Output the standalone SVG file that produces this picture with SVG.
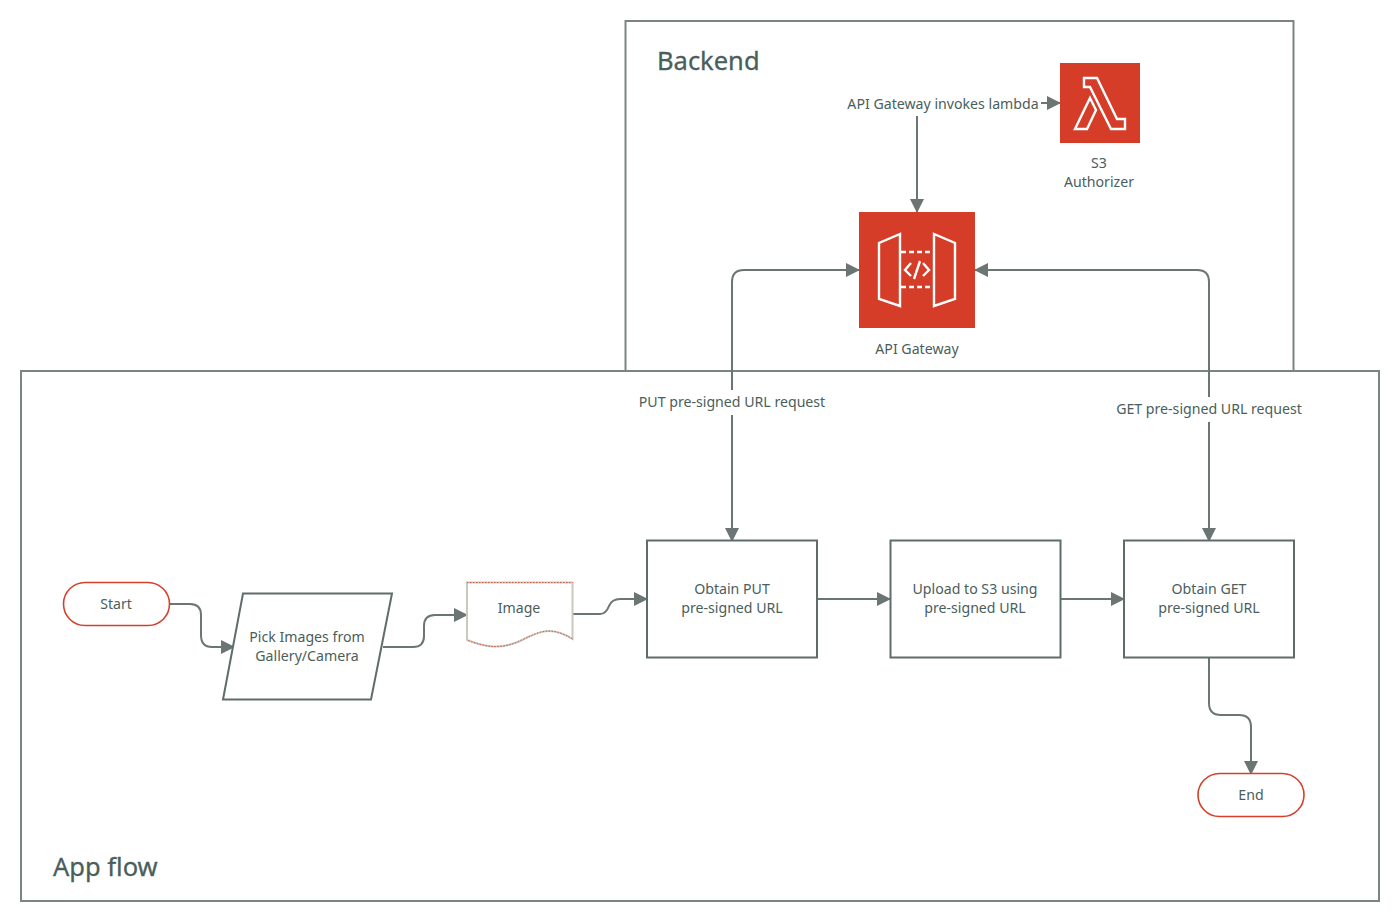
<svg xmlns="http://www.w3.org/2000/svg" width="1400" height="922" viewBox="0 0 1400 922">
<style>
text{font-family:"Noto Sans","Open Sans",sans-serif;fill:#4a5e5c;text-anchor:middle}
.t{font-size:14.150px}
.h{font-size:25.500px;text-anchor:start;stroke:#4a5e5c;stroke-width:0.300}
.box{fill:#fff;stroke:#5e6d6b;stroke-width:2}
.frame{fill:none;stroke:#7a8583;stroke-width:2}
.term{fill:#fff;stroke:#d5402b;stroke-width:1.600}
.conn{fill:none;stroke:#6b7573;stroke-width:2;marker-end:url(#a)}
.both{marker-start:url(#a)}
.icon{fill:none;stroke:#fff;stroke-width:2.400}
.red{fill:#d63d29}
.lab{fill:#fff;stroke:none}
</style>
<defs><marker id="a" markerUnits="userSpaceOnUse" markerWidth="14" markerHeight="14" refX="13" refY="7" orient="auto-start-reverse"><path d="M0 0L14 7L0 14Z" fill="#6b7573"/></marker></defs>
<g id="backend"><rect class="frame" x="625.500" y="21" width="668" height="360"/><text class="h" x="657" y="70">Backend</text></g>
<g id="appflow"><rect x="21" y="371" width="1358" height="530" fill="#fff" stroke="#7a8583" stroke-width="2"/><text class="h" x="53" y="876">App flow</text></g>
<g id="connectors">
<path class="conn" d="M917 116V212"/>
<path class="conn" d="M1041 103H1060"/>
<path class="conn both" d="M732 541V282Q732 270 744 270H859"/>
<path class="conn both" d="M1209 541V282Q1209 270 1197 270H975"/>
<path class="conn" d="M170 604H190Q201 604 201 615V635Q201 647 212 647H234"/>
<path class="conn" d="M383 647H413Q424 647 424 636V626Q424 615 435 615H467"/>
<path class="conn" d="M572 614H600Q606 614 609 606Q612 599 620 599H647"/>
<path class="conn" d="M817 599H890"/>
<path class="conn" d="M1060 599H1124"/>
<path class="conn" d="M1209 657V703Q1209 715 1221 715H1239Q1251 715 1251 727V774"/>
</g>
<g id="label-invoke"><rect class="lab" x="846" y="92" width="194" height="24"/><text class="t" x="943" y="109">API Gateway invokes lambda</text></g>
<g id="label-put"><rect class="lab" x="636" y="390" width="192" height="25"/><text class="t" x="732" y="407">PUT pre-signed URL request</text></g>
<g id="label-get"><rect class="lab" x="1113" y="397" width="192" height="25"/><text class="t" x="1209" y="414">GET pre-signed URL request</text></g>
<g id="lambda"><rect class="red" x="1060" y="63" width="80" height="80"/>
<path class="icon" d="M1084 78H1097L1117 119H1125V129H1111L1090 87H1084ZM1090 98L1096 110L1087 129H1075Z"/>
<text class="t" x="1099" y="168">S3</text><text class="t" x="1099" y="187">Authorizer</text></g>
<g id="apigw"><rect class="red" x="859" y="212" width="116" height="116"/>
<path class="icon" d="M900 234V306L879 299V243ZM934 234V306L955 299V243Z"/>
<path class="icon" stroke-dasharray="5 3" d="M901 252H934M901 287H934"/>
<path class="icon" d="M911 263L905 270L911 276M923 263L929 270L923 276M920 261L914 279"/>
<text class="t" x="917" y="354">API Gateway</text></g>
<g id="start"><rect class="term" x="63.500" y="582.500" width="106" height="43" rx="21.500"/><text class="t" x="116" y="609">Start</text></g>
<g id="pick"><path class="box" d="M243 593.500H392L371 699.500H223Z"/><text class="t" x="307" y="642">Pick Images from</text><text class="t" x="307" y="661">Gallery/Camera</text></g>
<g id="image"><path d="M467 582.500H572.500V639C550 625 538 632 520 641C500 650 485 647 467 640Z" fill="#fff" stroke="#c9c9c0" stroke-width="2"/><path d="M467 582.500H572.500M572.500 639C550 625 538 632 520 641C500 650 485 647 467 640" fill="none" stroke="#d5402b" stroke-width="0.800" stroke-dasharray="1.500 1.500"/><text class="t" x="519" y="613">Image</text></g>
<g id="obtain-put"><rect class="box" x="647" y="540.500" width="170" height="117"/><text class="t" x="732" y="594">Obtain PUT</text><text class="t" x="732" y="613">pre-signed URL</text></g>
<g id="upload"><rect class="box" x="890.500" y="540.500" width="170" height="117"/><text class="t" x="975" y="594">Upload to S3 using</text><text class="t" x="975" y="613">pre-signed URL</text></g>
<g id="obtain-get"><rect class="box" x="1124" y="540.500" width="170" height="117"/><text class="t" x="1209" y="594">Obtain GET</text><text class="t" x="1209" y="613">pre-signed URL</text></g>
<g id="end"><rect class="term" x="1198" y="773.500" width="106" height="43" rx="21.500"/><text class="t" x="1251" y="800">End</text></g>
</svg>
